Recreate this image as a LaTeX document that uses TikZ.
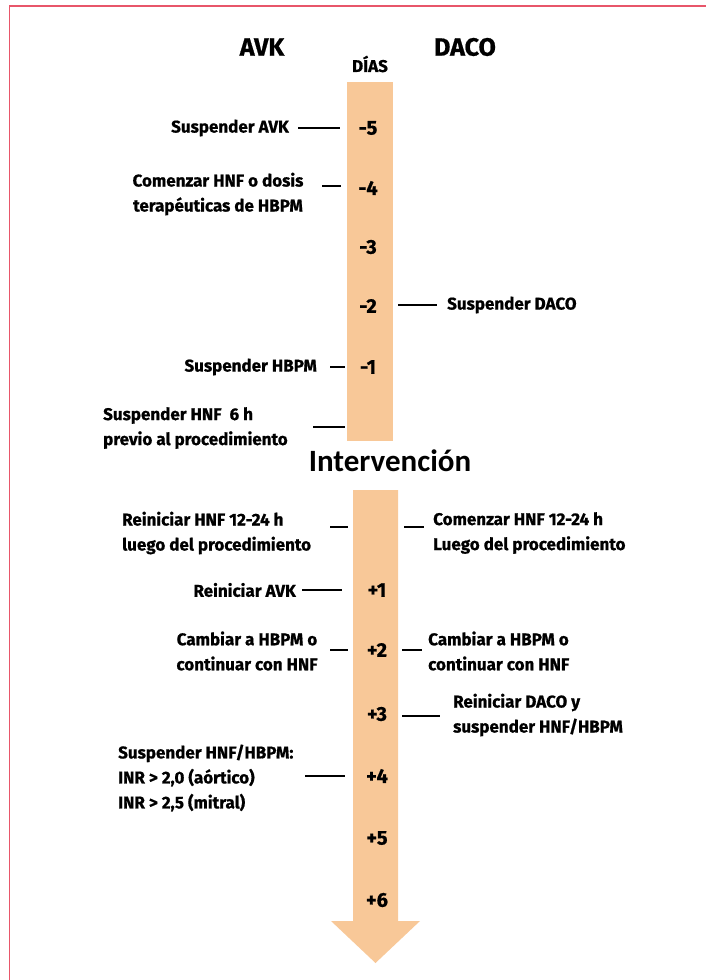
\documentclass[tikz,border=0pt]{standalone}
\usepackage{fontspec}
\newfontfamily\lab[BoldFeatures={FakeBold=0.8}]{Fira Sans}
\newfontfamily\intf{Carlito}
\definecolor{barc}{RGB}{248,200,152}
\definecolor{framec}{RGB}{232,86,106}
\begin{document}
\begin{tikzpicture}[x=1pt,y=-1pt,
  txt/.style={inner sep=0pt,font={\lab\bfseries\fontsize{17}{25}\selectfont}},
  head/.style={inner sep=0pt,font={\lab\bfseries\fontsize{25}{28}\selectfont}},
  day/.style={inner sep=0pt,font={\lab\bfseries\fontsize{20}{22}\selectfont}},
  tick/.style={line width=1.8pt}]
\useasboundingbox (0,0) rectangle (706,980);
\draw[framec,line width=1.6pt] (9.5,980) -- (9.5,6) -- (706,6);
% bars
\fill[barc] (347,82) rectangle (393,441);
\fill[barc] (353,490) -- (398,490) -- (398,921) -- (420,921) -- (375.5,963) -- (331,921) -- (353,921) -- cycle;
% headers
\node[head] (avk) at (262,47) {AVK};
\node[head] (daco) at (465,47) {DACO};
\node[inner sep=0pt,font={\lab\bfseries\fontsize{17}{18}\selectfont}] (dias) at (370,64) {DÍAS};
% days
\node[day] (m5) at (368,128) {-5};
\node[day] (m4) at (368,188) {-4};
\node[day] (m3) at (368,247) {-3};
\node[day] (m2) at (368,306) {-2};
\node[day] (m1) at (368,367) {-1};
\node[day] (p1) at (377,590) {+1};
\node[day] (p2) at (377,650) {+2};
\node[day] (p3) at (377,714) {+3};
\node[day] (p4) at (377,776) {+4};
\node[day] (p5) at (377,838) {+5};
\node[day] (p6) at (377,900) {+6};
% intervention
\node[inner sep=0pt,font={\intf\bfseries\fontsize{31}{34}\selectfont}] (int) at (390,461) {Intervención};
% labels
\node[txt,anchor=east] (sAVK) at (289,128) {Suspender AVK};
\node[txt,align=center] (cHNF) at (218,194) {Comenzar HNF o dosis\\terapéuticas de HBPM};
\node[txt,anchor=west] (sDACO) at (447,305) {Suspender DACO};
\node[txt,anchor=east] (sHBPM) at (317,367) {Suspender HBPM};
\node[txt,anchor=west,align=left] (sHNF) at (103,428) {Suspender HNF\ \ 6 h\\previo al procedimiento};
\node[txt,anchor=west,align=left] (rHNF) at (122,533) {Reiniciar HNF 12-24 h\\luego del procedimiento};
\node[txt,anchor=west,align=left] (coHNF) at (433,533) {Comenzar HNF 12-24 h\\Luego del procedimiento};
\node[txt,anchor=east] (rAVK) at (296,590) {Reiniciar AVK};
\node[txt,align=center] (camL) at (247,651) {Cambiar a HBPM o\\continuar con HNF};
\node[txt,anchor=west,align=left] (camR) at (428,651) {Cambiar a HBPM o\\continuar con HNF};
\node[txt,anchor=west,align=left] (rDACO) at (453,715) {Reiniciar DACO y\\suspender HNF/HBPM};
\node[txt,anchor=west,align=left] (sINR) at (118,778) {Suspender HNF/HBPM:\\INR > 2,0 (aórtico)\\INR > 2,5 (mitral)};
% tick coordinates
\coordinate (a1) at (298,128); \coordinate (b1) at (340,128);
\coordinate (a2) at (322,186); \coordinate (b2) at (341,186);
\coordinate (a3) at (398,305); \coordinate (b3) at (437,305);
\coordinate (a4) at (330,367); \coordinate (b4) at (345,367);
\coordinate (a5) at (313,427); \coordinate (b5) at (345,427);
\coordinate (a6) at (330,527); \coordinate (b6) at (348,527);
\coordinate (a7) at (404,527); \coordinate (b7) at (424,527);
\coordinate (a8) at (302,590); \coordinate (b8) at (342,590);
\coordinate (a9) at (330,650); \coordinate (b9) at (348,650);
\coordinate (a10) at (402,650); \coordinate (b10) at (422,650);
\coordinate (a11) at (402,716); \coordinate (b11) at (440,716);
\coordinate (a12) at (305,776); \coordinate (b12) at (345,776);
\foreach \i in {1,...,12} {\draw[tick] (a\i) -- (b\i);}
\end{tikzpicture}
\end{document}
